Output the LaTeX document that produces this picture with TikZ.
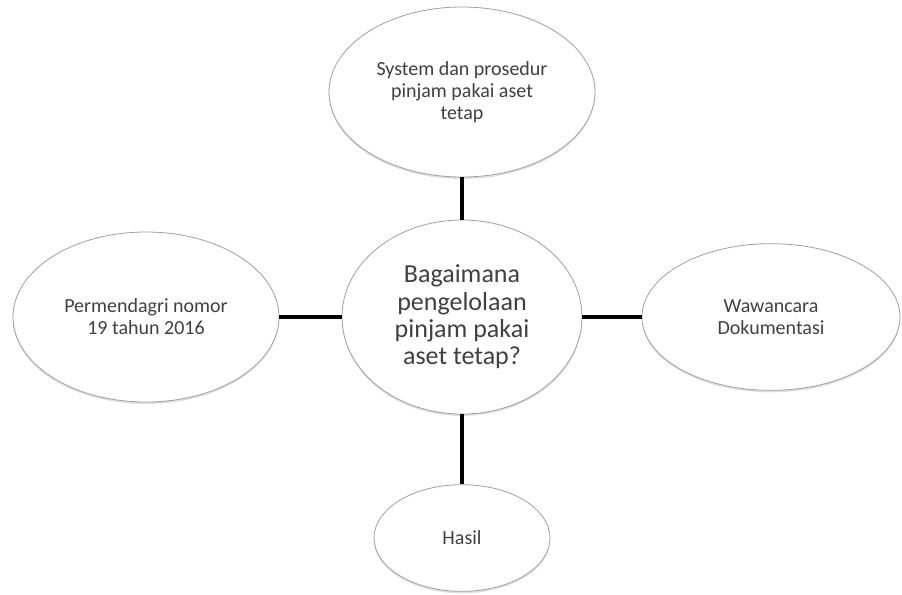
\documentclass[tikz,border=0pt]{standalone}
\usepackage{fontspec}
\setmainfont{Carlito}
\usepackage{tikz}
\usetikzlibrary{shapes.geometric}
\usetikzlibrary{shadows}

\begin{document}
\begin{tikzpicture}[x=0.75pt,y=-0.75pt]
	\tikzset{bubble/.style={ellipse,draw=gray!75,line width=0.6pt,fill=white,inner sep=0pt,align=center,text=black!75,font=\fontsize{15}{16.5}\selectfont,drop shadow={opacity=0.25,shadow xshift=0pt,shadow yshift=-1.5pt}}}
	\tikzset{link/.style={black,line width=3pt}}
	
	% Fix the size of the page
	\useasboundingbox (0,0) rectangle (902,594);
	
	% Centre question
	\node[bubble,minimum width=180pt,minimum height=145.5pt,font=\fontsize{19.5}{20.5}\selectfont] (tanya) at (462,317) {Bagaimana\\pengelolaan\\pinjam pakai\\aset tetap?};
	
	% Surrounding ellipses
	\node[bubble,minimum width=199.5pt,minimum height=127.5pt] (sistem) at (462,92) {System dan prosedur\\pinjam pakai aset\\tetap};
	\node[bubble,minimum width=199.5pt,minimum height=127.5pt] (dasar) at (146,317) {Permendagri nomor\\19 tahun 2016};
	\node[bubble,minimum width=193.5pt,minimum height=110pt] (metode) at (771,317) {Wawancara\\Dokumentasi};
	\node[bubble,minimum width=132pt,minimum height=80pt] (hasil) at (462,538) {Hasil};
	
	% Connecting lines
	\draw[link] (sistem) -- (tanya);
	\draw[link] (dasar) -- (tanya);
	\draw[link] (tanya) -- (metode);
	\draw[link] (tanya) -- (hasil);
	
\end{tikzpicture}
\end{document}
